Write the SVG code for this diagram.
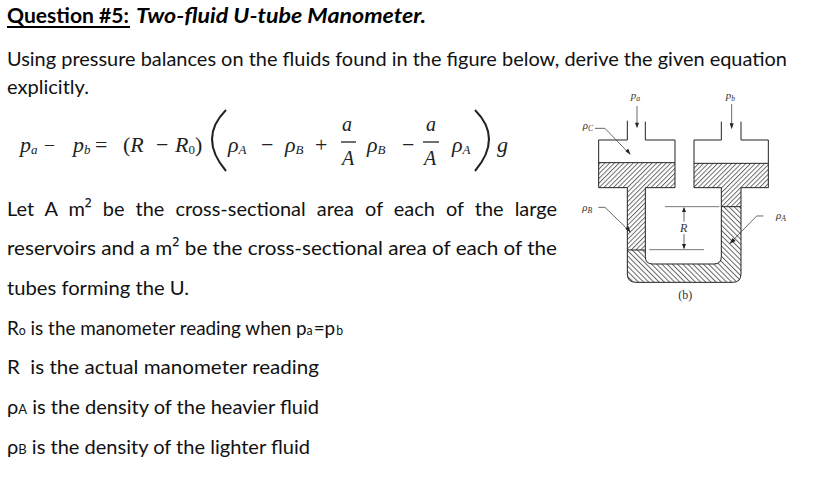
<svg xmlns="http://www.w3.org/2000/svg" width="828" height="492" viewBox="0 0 828 492">
<style>
.b{font-family:Lato,"Open Sans","Liberation Sans",sans-serif;font-size:20px;fill:#111}
.s{font-size:13px}
.n{font-family:"Open Sans",sans-serif}
.m{font-family:"Liberation Serif",serif;font-size:22px;fill:#222}
.i{font-style:italic}
.f{font-size:20px}
.sub{font-size:13px}
.d{font-family:"Liberation Serif",serif;font-style:italic;font-size:33px;fill:#333}
.u{font-size:23px}
.line{fill:none;stroke:#222;stroke-width:3}
.thin{fill:none;stroke:#444;stroke-width:2.4}
.tip{fill:#222}
</style>
<defs>
<pattern id="hatchB" width="10" height="10" patternUnits="userSpaceOnUse" patternTransform="rotate(45)"><rect width="10" height="10" fill="#fff"/><rect width="2.8" height="10" fill="#666"/></pattern>
<pattern id="hatchA" width="11" height="11" patternUnits="userSpaceOnUse" patternTransform="rotate(-45)"><rect width="11" height="11" fill="#fff"/><rect width="3" height="11" fill="#666"/></pattern>
</defs>
<rect width="828" height="492" fill="#fff"/>
<g id="title">
<text class="b" x="7" y="23" font-weight="700" fill="#000" style="fill:#000" textLength="122" lengthAdjust="spacingAndGlyphs">Question #5:</text>
<path d="M7 27H130" stroke="#000" stroke-width="1.8"/>
<text class="b" x="136" y="23" font-weight="700" font-style="italic" style="fill:#000" textLength="290" lengthAdjust="spacingAndGlyphs">Two-fluid U-tube Manometer.</text>
</g>
<g id="intro">
<text class="b" x="7" y="66" textLength="780" lengthAdjust="spacingAndGlyphs">Using pressure balances on the fluids found in the figure below, derive the given equation</text>
<text class="b" x="7" y="94" textLength="82" lengthAdjust="spacingAndGlyphs">explicitly.</text>
</g>
<g id="equation">
<text class="m i" x="20" y="152">p<tspan class="sub" dy="2">a</tspan></text>
<text class="m" x="45" y="151" textLength="9" lengthAdjust="spacingAndGlyphs">–</text>
<text class="m i" x="73" y="152">p<tspan class="sub" dy="2">b</tspan></text>
<text class="m" x="95" y="152">=</text>
<text class="m" x="123" y="152">(<tspan class="i">R</tspan></text>
<text class="m" x="156" y="152">−</text>
<text class="m" x="175" y="152"><tspan class="i">R</tspan><tspan class="sub" dy="2">0</tspan><tspan dy="-2">)</tspan></text>
<path d="M226 110Q198 138 226 171" fill="none" stroke="#222" stroke-width="2"/>
<text class="m i" x="228" y="152">ρ<tspan class="sub" dy="2">A</tspan></text>
<text class="m" x="261" y="152">−</text>
<text class="m i" x="285" y="152">ρ<tspan class="sub" dy="2">B</tspan></text>
<text class="m" x="315" y="152">+</text>
<text class="m i f" x="342" y="131">a</text>
<path d="M341 142H356" stroke="#222" stroke-width="1.3"/>
<text class="m i f" x="342" y="165">A</text>
<text class="m i" x="367" y="152">ρ<tspan class="sub" dy="2">B</tspan></text>
<text class="m" x="402" y="152">−</text>
<text class="m i f" x="426" y="131">a</text>
<path d="M423 142H439" stroke="#222" stroke-width="1.3"/>
<text class="m i f" x="424" y="165">A</text>
<text class="m i" x="452" y="152">ρ<tspan class="sub" dy="2">A</tspan></text>
<path d="M475 110Q503 138 475 171" fill="none" stroke="#222" stroke-width="2"/>
<text class="m i" x="497" y="152">g</text>
</g>
<g id="body">
<text class="b" x="7" y="216" word-spacing="6" textLength="550" lengthAdjust="spacingAndGlyphs">Let A m<tspan class="n">²</tspan> be the cross-sectional area of each of the large</text>
<text class="b" x="7" y="255" textLength="550" lengthAdjust="spacingAndGlyphs">reservoirs and a m<tspan class="n">²</tspan> be the cross-sectional area of each of the</text>
<text class="b" x="7" y="295" textLength="182" lengthAdjust="spacingAndGlyphs">tubes forming the U.</text>
<text class="b" x="7" y="335" textLength="336" lengthAdjust="spacingAndGlyphs">R<tspan class="s">o</tspan> is the manometer reading when p<tspan class="s">a</tspan><tspan dx="1">=</tspan>p<tspan class="s" dx="1">b</tspan></text>
<text class="b" x="7" y="374" textLength="312" lengthAdjust="spacingAndGlyphs">R  <tspan dx="5">is the actual manometer reading</tspan></text>
<text class="b" x="7" y="414" textLength="312" lengthAdjust="spacingAndGlyphs">ρ<tspan class="s">A</tspan> is the density of the heavier fluid</text>
<text class="b" x="7" y="454" textLength="303" lengthAdjust="spacingAndGlyphs">ρ<tspan class="s">B</tspan> is the density of the lighter fluid</text>
</g>
<g id="manometer" transform="translate(560 80) scale(.33333)">
<path d="M116 248H345V323H256V510H202V323H116Z" fill="url(#hatchB)"/>
<path d="M402 250H625V323H543V380H484V323H402Z" fill="url(#hatchB)"/>
<path d="M202 510H256V530Q256 552 278 552H462Q484 552 484 530V380H543V582Q543 607 518 607H228Q202 607 202 582Z" fill="url(#hatchA)"/>
<path class="line" d="M202 122V180H116V323H202V582Q202 607 228 607H518Q543 607 543 582V323H625V180H543V125"/>
<path class="line" d="M256 125V180H345V323H256V530Q256 552 278 552H462Q484 552 484 530V323H402V180H484V125"/>
<path class="line" d="M116 248H345M402 250H625M202 510H256M484 380H543"/>
<path d="M315 380H478M268 509H432" fill="none" stroke="#777" stroke-width="3"/>
<path class="thin" d="M372 385V425M372 462V505M231 78V135M515 72V135"/>
<path class="tip" d="M372 381L366 396H378ZM372 508L366 492H378ZM231 145L225 128H237ZM515 148L509 130H521Z"/>
<path class="thin" d="M105 145H135L205 218M115 382H135L205 450M610 408H590L515 485"/>
<path class="tip" d="M212 225L196 213L205 206ZM212 458L196 446L205 438ZM508 492L518 474L527 483Z"/>
<text class="d" x="212" y="58">p<tspan class="u" dy="5">a</tspan></text>
<text class="d" x="497" y="58">p<tspan class="u" dy="5">b</tspan></text>
<text class="d" x="68" y="148">ρ<tspan class="u" dy="5">C</tspan></text>
<text class="d" x="67" y="394">ρ<tspan class="u" dy="5">B</tspan></text>
<text class="d" x="648" y="418">ρ<tspan class="u" dy="5">A</tspan></text>
<text class="d" x="360" y="455" style="font-size:36px">R</text>
<text x="355" y="656" font-family="Liberation Serif,serif" font-size="36" fill="#333">(b)</text>
</g>
</svg>
